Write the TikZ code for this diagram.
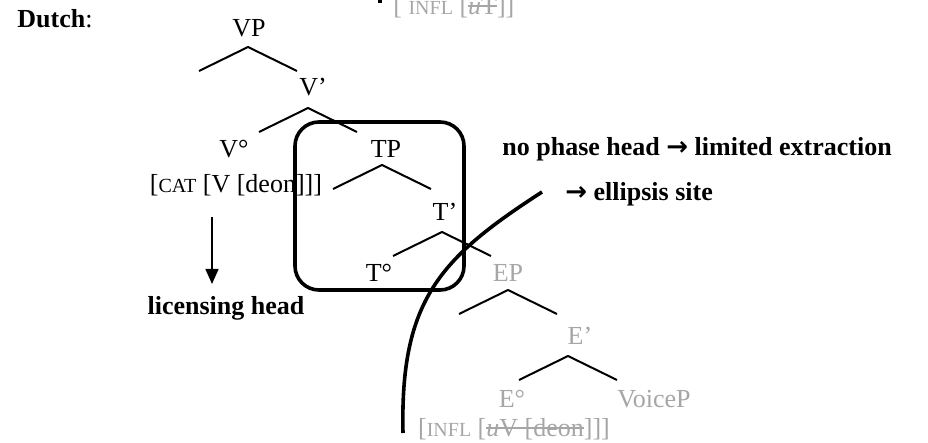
\documentclass[tikz,border=0pt]{standalone}
\usepackage{fontspec}
\setmainfont{Liberation Serif}
\newfontfamily\arrowfont{DejaVu Sans}
\usetikzlibrary{arrows.meta, calc}
\definecolor{colGone}{HTML}{A6A6A6}
\newcommand{\smc}[1]{{\fontsize{10}{12}\selectfont #1}}
\newcommand{\strikeout}[1]{\setbox0\hbox{#1}\rlap{\raisebox{0.3em}{\rule{\wd0}{0.07em}}}\box0}
\newcommand{\thenarrow}{{\arrowfont\bfseries →}}

\begin{document}
\begin{tikzpicture}[
    x=0.5pt, y=-0.5pt,
    font=\fontsize{13}{15}\selectfont,
    lab/.style={anchor=base, inner sep=0pt},
    gone/.style={lab, text=colGone},
    note/.style={anchor=base west, inner sep=0pt, font=\fontsize{13}{15}\selectfont\bfseries},
    branch/.style={line width=1pt},
    cut/.style={line width=1.8pt},
    phasebox/.style={draw, line width=1.8pt, rounded corners=12pt,
                     minimum width=84.5pt, minimum height=84pt, inner sep=0pt},
    licarrow/.style={-{Triangle[length=7.5pt,width=6.5pt]}, line width=0.8pt},
]
\useasboundingbox (0,0) rectangle (928,443);

% ---- header ----------------------------------------------------------------
\node[lab, anchor=base west] (dutch) at (17,28) {\textbf{Dutch}:};
\node[gone, anchor=base west] (inflT) at (393,15) {[ \smc{INFL} [\strikeout{\textit{u}T}]]};
\coordinate (topA) at (380,-8);
\coordinate (topB) at (380,3);
\draw[line width=2pt] (topA) -- (topB);

% ---- tree labels -----------------------------------------------------------
\node[lab] (vp)     at (249,37)  {VP};
\node[lab] (vbar)   at (313,96)  {V’};
\node[lab] (vhead)  at (234,158) {V°};
\node[lab] (vfeat)  at (236,193) {[\smc{CAT} [V [deon]]]};
\node[lab] (tp)     at (386,158) {TP};
\node[lab] (tbar)   at (445,221) {T’};
\node[lab] (thead)  at (379,282) {T°};
\node[gone] (ep)     at (508,282) {EP};
\node[gone] (ebar)   at (580,345) {E’};
\node[gone] (ehead)  at (512,408) {E°};
\node[gone] (voicep) at (654,408) {VoiceP};
\node[gone] (efeat)  at (514,437) {[\smc{INFL} [\strikeout{\textit{u}V [deon}]]]};

% ---- branches --------------------------------------------------------------
\coordinate (vpA)   at (248,47);
\coordinate (vbarA) at (308,108);
\coordinate (tpA)   at (382,165);
\coordinate (tbarA) at (442,232);
\coordinate (epA)   at (508,290);
\coordinate (ebarA) at (568,356);
\foreach \a in {vpA, vbarA, tpA, tbarA, epA, ebarA}
  \draw[branch] ($(\a)+(-49,24)$) -- (\a) -- ($(\a)+(49,24)$);

% ---- phase box and ellipsis cut -------------------------------------------
\node[phasebox] (phase) at (379.5,206) {};
\coordinate (cutTop) at (542,192);
\coordinate (cutBot) at (403,433);
\draw[cut] (cutTop) .. controls (440,258) and (400,300) .. (cutBot);

% ---- licensing -------------------------------------------------------------
\node[note, anchor=base] (lic) at (226,315) {licensing head};
\coordinate (licTop) at (212,217);
\coordinate (licTip) at (212,284);
\draw[licarrow] (licTop) -- (licTip);

% ---- notes -----------------------------------------------------------------
\node[note] (phaseNote) at (502,156) {no phase head \thenarrow{} limited extraction};
\node[note] (ellNote)   at (565,201) {\thenarrow{} ellipsis site};

\end{tikzpicture}
\end{document}
